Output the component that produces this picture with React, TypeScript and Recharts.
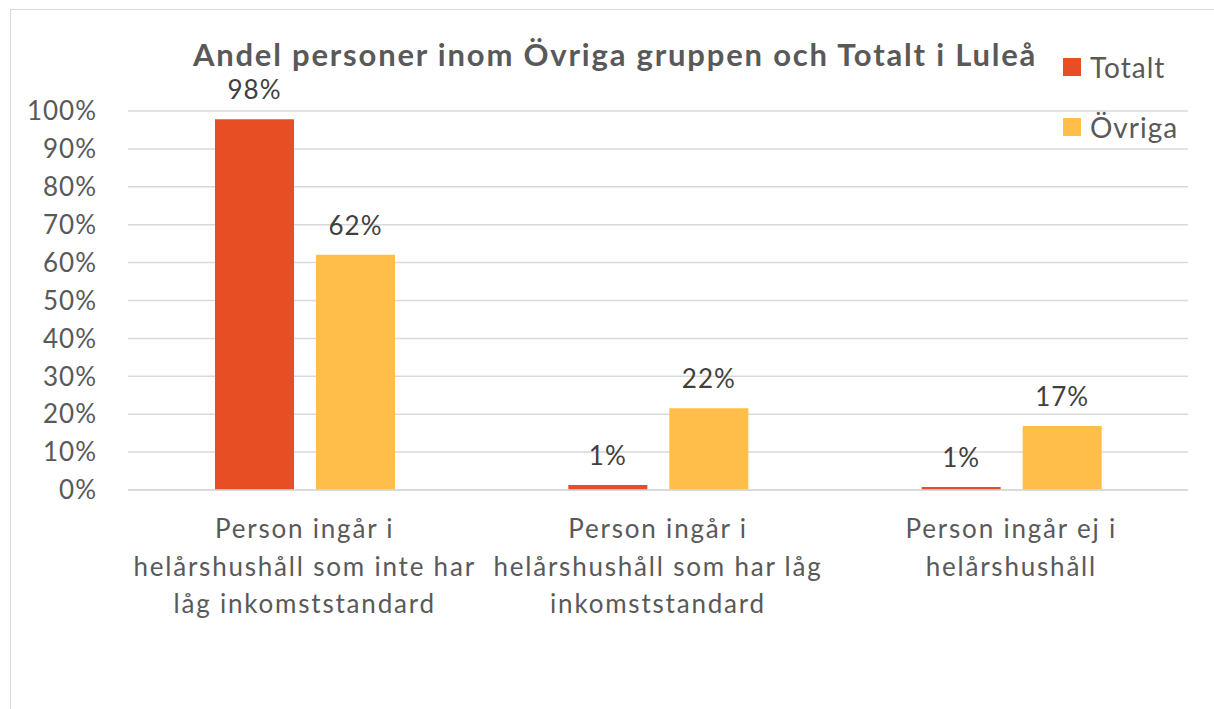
import { Bar, BarChart, CartesianGrid, LabelList, XAxis, YAxis } from "recharts";

const categories = [
  "Person ingår i\nhelårshushåll som inte har\nlåg inkomststandard",
  "Person ingår i\nhelårshushåll som har låg\ninkomststandard",
  "Person ingår ej i\nhelårshushåll",
];
const totaltValues = [97.8, 1.3, 0.8];
const ovrigaValues = [62.1, 21.6, 16.9];
const yTicks = [0, 10, 20, 30, 40, 50, 60, 70, 80, 90, 100];

const TOTALT_COLOR = "#E84E23";
const OVRIGA_COLOR = "#FFBE4A";
const FONT = "Lato, 'Open Sans', sans-serif";

const data = categories.map((name, i) => ({
  name,
  Totalt: totaltValues[i],
  Övriga: ovrigaValues[i],
}));

const legendItems = [
  { label: "Totalt", color: TOTALT_COLOR },
  { label: "Övriga", color: OVRIGA_COLOR },
];

function CategoryTick({ x, y, payload }: { x?: number; y?: number; payload?: { value: string } }) {
  const lines = String(payload?.value ?? "").split("\n");
  return (
    <text
      x={x}
      y={(y ?? 0) + 40}
      textAnchor="middle"
      fill="#595959"
      fontSize={26}
      fontFamily={FONT}
      letterSpacing={1.8}
    >
      {lines.map((line, i) => (
        <tspan key={i} x={x} dy={i === 0 ? 0 : 37.5}>
          {line}
        </tspan>
      ))}
    </text>
  );
}

export default function App() {
  return (
    <div style={{ position: "absolute", left: 0, top: 0, width: 1214, height: 709, background: "#fff", overflow: "hidden" }}>
      <div
        style={{
          position: "absolute",
          left: 10,
          top: 9,
          width: 1220,
          height: 720,
          border: "1.5px solid #D9D9D9",
        }}
      />
      <BarChart
        width={1214}
        height={709}
        data={data}
        margin={{ top: 111, right: 26, bottom: 189, left: 0 }}
        barGap={22}
        barSize={79}
      >
        <CartesianGrid vertical={false} stroke="#D9D9D9" strokeWidth={1.5} />
        <XAxis
          dataKey="name"
          height={30}
          axisLine={{ stroke: "#D9D9D9", strokeWidth: 1.5 }}
          tickLine={false}
          interval={0}
          tick={<CategoryTick />}
        />
        <YAxis
          width={128}
          domain={[0, 100]}
          ticks={yTicks}
          interval={0}
          tickFormatter={(v: number) => `${v}%`}
          axisLine={false}
          tickLine={false}
          tickSize={0}
          tickMargin={31}
          tick={{ fill: "#595959", fontSize: 26, fontFamily: FONT, letterSpacing: 1 }}
        />
        <Bar dataKey="Totalt" fill={TOTALT_COLOR} isAnimationActive={false}>
          <LabelList
            dataKey="Totalt"
            position="top"
            offset={20}
            formatter={(v: number) => `${Math.round(v)}%`}
            style={{ fill: "#404040", fontSize: 26, fontFamily: FONT, letterSpacing: 1 }}
          />
        </Bar>
        <Bar dataKey="Övriga" fill={OVRIGA_COLOR} isAnimationActive={false}>
          <LabelList
            dataKey="Övriga"
            position="top"
            offset={20}
            formatter={(v: number) => `${Math.round(v)}%`}
            style={{ fill: "#404040", fontSize: 26, fontFamily: FONT, letterSpacing: 1 }}
          />
        </Bar>
      </BarChart>
      <div
        style={{
          position: "absolute",
          left: 0,
          top: 36,
          width: 1230,
          textAlign: "center",
          fontFamily: FONT,
          fontWeight: 700,
          fontSize: 31,
          lineHeight: "37px",
          letterSpacing: 1.8,
          color: "#595959",
          whiteSpace: "nowrap",
        }}
      >
        Andel personer inom Övriga gruppen och Totalt i Luleå
      </div>
      <div style={{ position: "absolute", left: 1063, top: 37, fontFamily: FONT, fontSize: 28, color: "#595959", letterSpacing: 1 }}>
        {legendItems.map((it) => (
          <div key={it.label} style={{ display: "flex", alignItems: "center", height: 60 }}>
            <span style={{ width: 18, height: 18, background: it.color, marginRight: 9, flex: "none" }} />
            <span>{it.label}</span>
          </div>
        ))}
      </div>
    </div>
  );
}
